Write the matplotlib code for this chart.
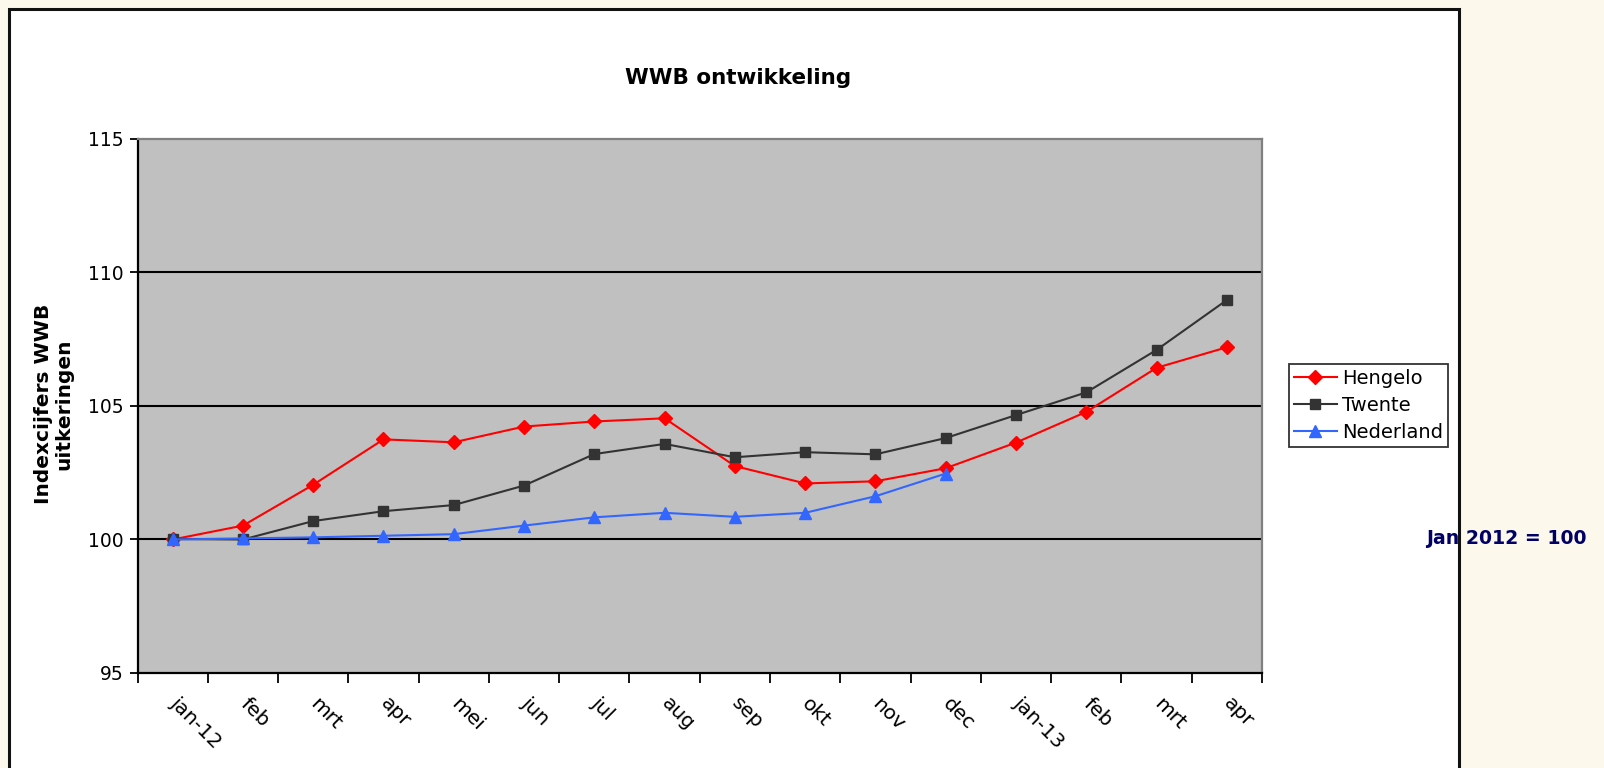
import matplotlib
matplotlib.use("Agg")
import matplotlib.pyplot as plt
import numpy as np
from matplotlib.patches import Rectangle

plt.rcParams["font.family"] = ["DejaVu Sans"]

# maanden en indexcijfers (jan 2012 = 100)
maanden = ["jan-12", "feb", "mrt", "apr", "mei", "jun", "jul", "aug",
           "sep", "okt", "nov", "dec", "jan-13", "feb", "mrt", "apr"]
hengelo = [100.0, 100.52, 102.05, 103.75, 103.64, 104.23, 104.42, 104.54,
           102.75, 102.1, 102.18, 102.67, 103.63, 104.78, 106.43, 107.2]
twente = [100.02, 100.0, 100.69, 101.06, 101.29, 102.02, 103.2, 103.58,
          103.08, 103.27, 103.19, 103.8, 104.66, 105.51, 107.1, 108.97]
nederland = [100.0, 100.04, 100.08, 100.14, 100.2, 100.52, 100.83, 101.0,
             100.85, 101.0, 101.62, 102.47]

bg = "#FCF9EC"
fig = plt.figure(figsize=(16.04, 7.68), dpi=100, facecolor=bg)

# witte kaart met zwarte rand
fig.patches.append(Rectangle((8.5 / 1604, -0.05), 1450 / 1604, 1.05 - 9 / 768,
                             transform=fig.transFigure, facecolor="white",
                             edgecolor="#111111", linewidth=2.2, zorder=-5))

ax = fig.add_axes([137.5 / 1604, 1 - 673 / 768, (1262 - 137.5) / 1604, (673 - 139) / 768])
ax.set_zorder(2)
ax.set_facecolor("#C0C0C0")

x = np.arange(len(maanden))
ax.plot(x, hengelo, color="#FF0000", lw=1.5, marker="D", ms=7.5, label="Hengelo", zorder=3)
ax.plot(x, twente, color="#333333", lw=1.5, marker="s", ms=7, label="Twente", zorder=3)
ax.plot(x[:len(nederland)], nederland, color="#3366FF", lw=1.5, marker="^", ms=9,
        label="Nederland", zorder=3)

ax.set_xlim(-0.5, len(maanden) - 0.5)
ax.set_ylim(95, 115)
ax.set_yticks([95, 100, 105, 110, 115])
for v in [100, 105, 110]:
    ax.axhline(v, color="black", lw=1.5, zorder=1)

ax.set_xticks(np.arange(-0.5, len(maanden), 1.0))
ax.set_xticklabels([])
ax.set_xticks(x, minor=True)
ax.set_xticklabels(maanden, minor=True, rotation=-45, ha="left", va="center",
                   rotation_mode="anchor", fontsize=14.5)
ax.tick_params(axis="x", which="minor", length=0, pad=20)
ax.tick_params(axis="x", which="major", length=7, width=1.3, direction="out")
ax.tick_params(axis="y", length=6, width=1.3, labelsize=13.5, pad=4)

for s in ["left", "bottom"]:
    ax.spines[s].set_color("black")
    ax.spines[s].set_linewidth(1.6)
for s in ["top", "right"]:
    ax.spines[s].set_color("#808080")
    ax.spines[s].set_linewidth(1.6)

fig.text(738 / 1604, 1 - 78 / 768, "WWB ontwikkeling", ha="center", va="center",
         fontsize=15.5, fontweight="bold")
fig.text(54 / 1604, 1 - 404 / 768, "Indexcijfers WWB\nuitkeringen", ha="center",
         va="center", rotation=90, fontsize=14.5, fontweight="bold", linespacing=1.1)
fig.text(1426.5 / 1604, 1 - 538 / 768, "Jan 2012 = 100", ha="left", va="center",
         fontsize=13.6, fontweight="bold", color="#000066")

leg = fig.legend(loc="upper left", bbox_to_anchor=(1289 / 1604, 1 - 364 / 768),
                 fontsize=14, frameon=True, fancybox=False, edgecolor="black",
                 handlelength=2.2, handletextpad=0.3, borderpad=0.25,
                 labelspacing=0.42, borderaxespad=0)
leg.get_frame().set_linewidth(1.3)

fig.savefig("out.png", dpi=100, facecolor=bg)
